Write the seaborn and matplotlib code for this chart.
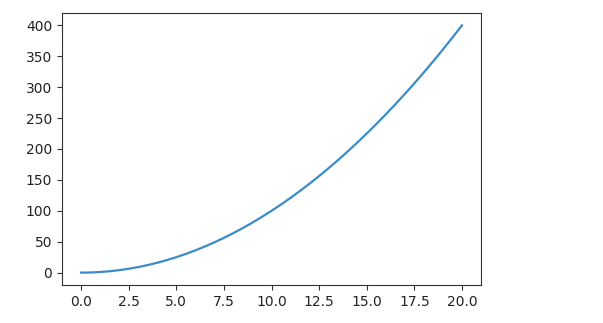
import matplotlib
matplotlib.use("Agg")
import matplotlib.pyplot as plt
import seaborn as sns
import pandas as pd

x_vals = [0, 0.5, 1, 1.5, 2, 2.5, 3, 3.5, 4, 4.5, 5, 5.5, 6, 6.5, 7, 7.5, 8, 8.5, 9, 9.5, 10,
          10.5, 11, 11.5, 12, 12.5, 13, 13.5, 14, 14.5, 15, 15.5, 16, 16.5, 17, 17.5, 18, 18.5,
          19, 19.5, 20]
y_vals = [0, 0.25, 1, 2.25, 4, 6.25, 9, 12.25, 16, 20.25, 25, 30.25, 36, 42.25, 49, 56.25, 64,
          72.25, 81, 90.25, 100, 110.25, 121, 132.25, 144, 156.25, 169, 182.25, 196, 210.25, 225,
          240.25, 256, 272.25, 289, 306.25, 324, 342.25, 361, 380.25, 400]

df = pd.DataFrame({"x": x_vals, "y": y_vals})

fig = plt.figure(figsize=(6.03, 3.23), dpi=100)
ax = fig.add_axes([62 / 603, 1 - 285 / 323, (481 - 62) / 603, (285 - 13) / 323])
sns.lineplot(data=df, x="x", y="y", ax=ax, color="#3a8bc7", linewidth=1.6)
ax.set_xlabel("")
ax.set_ylabel("")
ax.set_xticks([0, 2.5, 5, 7.5, 10, 12.5, 15, 17.5, 20])
ax.set_xticklabels(["0.0", "2.5", "5.0", "7.5", "10.0", "12.5", "15.0", "17.5", "20.0"])
ax.set_yticks([0, 50, 100, 150, 200, 250, 300, 350, 400])
ax.tick_params(labelsize=10, colors="#333333", labelcolor="#222222")
for s in ax.spines.values():
    s.set_color("#333333")
fig.savefig("out.png", dpi=100)
